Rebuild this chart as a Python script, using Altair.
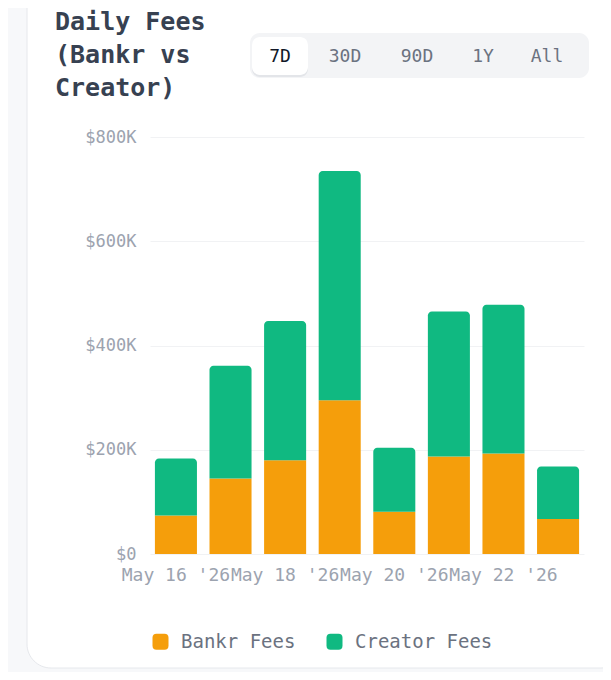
import altair as alt
import pandas as pd

# ---- data ----
dates = ["May 16 '26", "May 17 '26", "May 18 '26", "May 19 '26",
         "May 20 '26", "May 21 '26", "May 22 '26", "May 23 '26"]
bankr_fees = [74000, 145000, 180000, 295000, 81000, 187000, 193000, 67000]
creator_fees = [109000, 216000, 267000, 440000, 123000, 278000, 285000, 101000]
series_names = ["Bankr Fees", "Creator Fees"]
series_colors = ["#F59E0B", "#10B981"]
y_ticks = [0, 200000, 400000, 600000, 800000]
range_labels = ["7D", "30D", "90D", "1Y", "All"]
title_lines = ["Daily Fees", "(Bankr vs", "Creator)"]

rows = []
for d, b, c in zip(dates, bankr_fees, creator_fees):
    rows.append({"date": d, "series": series_names[0], "start": 0, "end": b})
    rows.append({"date": d, "series": series_names[1], "start": b, "end": b + c})
df = pd.DataFrame(rows)

FONT = "DejaVu Sans Mono"
W, H = 434, 417

x_enc = alt.X(
    "date:N", sort=dates,
    scale=alt.Scale(paddingInner=0.23, paddingOuter=0.09),
    axis=alt.Axis(values=dates[::2], title=None, labelAngle=0, labelOverlap=False,
                  labelBound=False, ticks=False, domain=False, grid=False,
                  labelFont=FONT, labelFontSize=18, labelColor="#9CA3AF",
                  labelPadding=12),
)
y_enc = alt.Y(
    "start:Q",
    scale=alt.Scale(domain=[0, 800000], nice=False),
    axis=alt.Axis(values=y_ticks, title=None, ticks=False, domain=False,
                  grid=True, gridColor="#F1F2F4", gridWidth=1,
                  labelExpr="datum.value == 0 ? '$0' : '$' + (datum.value / 1000) + 'K'",
                  labelFont=FONT, labelFontSize=17, labelColor="#9CA3AF",
                  labelPadding=14),
)
rounded_square = ("M -0.5,-1 L 0.5,-1 Q 1,-1 1,-0.5 L 1,0.5 Q 1,1 0.5,1 "
                  "L -0.5,1 Q -1,1 -1,0.5 L -1,-0.5 Q -1,-1 -0.5,-1 Z")
color_enc = alt.Color(
    "series:N",
    scale=alt.Scale(domain=series_names, range=series_colors),
    legend=alt.Legend(title=None, orient="none", legendX=1, legendY=495,
                      direction="horizontal", symbolType=rounded_square,
                      symbolSize=256, symbolStrokeWidth=0, labelFont=FONT,
                      labelFontSize=19, labelColor="#6B7280", labelOffset=11,
                      columnPadding=29, padding=0),
)

base = alt.Chart(df)
bankr_layer = base.mark_bar().encode(
    x=x_enc, y=y_enc, y2="end:Q", color=color_enc
).transform_filter(alt.datum.series == series_names[0])
creator_layer = base.mark_bar(cornerRadiusTopLeft=4, cornerRadiusTopRight=4).encode(
    x=x_enc, y=y_enc, y2="end:Q", color=color_enc
).transform_filter(alt.datum.series == series_names[1])

one = alt.Data(values=[{}])

# card decoration (outside tint + thin border)
outer_tint = alt.Chart(one).mark_rect(
    filled=False, stroke="#F7F8FA", strokeWidth=80, cornerRadius=64
).encode(x=alt.value(-163), x2=alt.value(515), y=alt.value(-240), y2=alt.value(571))
card_border = alt.Chart(one).mark_rect(
    filled=False, stroke="#E6E8EC", strokeWidth=1, cornerRadius=24
).encode(x=alt.value(-123), x2=alt.value(475), y=alt.value(-200), y2=alt.value(531))

# heading
heading = alt.Chart(one).mark_text(
    text=title_lines, font=FONT, fontSize=25, fontWeight="bold", lineHeight=33,
    align="left", baseline="top", color="#374151"
).encode(x=alt.value(-95), y=alt.value(-127))

# range selector
seg_bg = alt.Chart(one).mark_rect(fill="#F3F4F6", cornerRadius=10).encode(
    x=alt.value(100), x2=alt.value(439), y=alt.value(-104), y2=alt.value(-59))
seg_shadow = alt.Chart(one).mark_rect(fill="#E3E5E9", cornerRadius=8).encode(
    x=alt.value(102), x2=alt.value(158), y=alt.value(-99), y2=alt.value(-60))
seg_active = alt.Chart(one).mark_rect(fill="#FFFFFF", cornerRadius=8).encode(
    x=alt.value(102), x2=alt.value(158), y=alt.value(-100), y2=alt.value(-62))
seg_x = [130, 195, 267, 333, 397]
seg_texts = []
for i, (lab, px) in enumerate(zip(range_labels, seg_x)):
    seg_texts.append(
        alt.Chart(one).mark_text(
            text=lab, font=FONT, fontSize=18, align="center", baseline="middle",
            color="#111827" if i == 0 else "#6B7280"
        ).encode(x=alt.value(px), y=alt.value(-80))
    )

chart = alt.layer(
    outer_tint, card_border, heading, seg_bg, seg_shadow, seg_active, *seg_texts,
    bankr_layer, creator_layer
).properties(
    width=W, height=H,
    autosize=alt.AutoSizeParams(type="none"),
    padding={"left": 142, "top": 129, "right": 19, "bottom": 118},
    background="#FFFFFF",
).configure_view(stroke=None)

chart.save("out.html", embed_options={"renderer": "svg", "actions": False})
